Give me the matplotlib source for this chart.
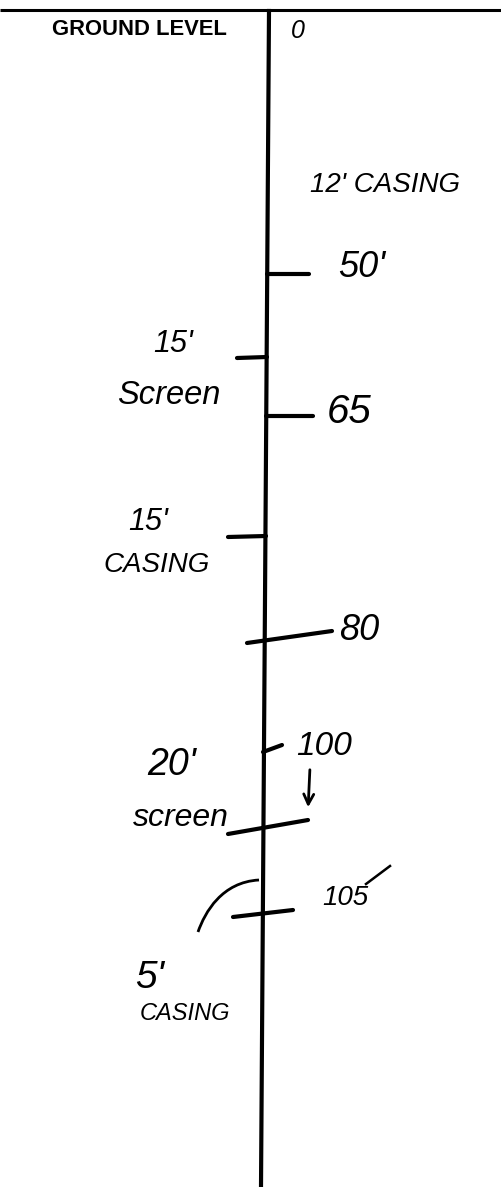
import matplotlib
matplotlib.use("Agg")
import matplotlib.pyplot as plt
from matplotlib.path import Path
from matplotlib.patches import PathPatch

# ---------------- data ----------------
depths = [0, 50, 65, 80, 100, 105]
depth_labels = ["0", "50'", "65", "80", "100", "105"]
section_lengths = ["12'", "15'", "15'", "20'", "5'"]
section_types = ["CASING", "Screen", "CASING", "screen", "CASING"]
header = "GROUND LEVEL"

# ---------------- layout (pixels) ----------------
W, H = 502, 1187
fig = plt.figure(figsize=(W / 100, H / 100), dpi=100)
ax = fig.add_axes([0, 0, 1, 1])
ax.set_xlim(0, W)
ax.set_ylim(H, 0)
ax.axis("off")

hand = dict(family=["Liberation Sans", "DejaVu Sans"], style="italic", color="black")

# ground line and well line
ax.plot([0, W], [10, 10], color="black", lw=2.2, solid_capstyle="butt")
well_top, well_bot = (269, 11), (261, H)
ax.plot([well_top[0], well_bot[0]], [well_top[1], well_bot[1]], color="black", lw=3.0)

ax.text(52, 35, header, family=["Liberation Sans", "DejaVu Sans"], weight="bold",
        fontsize=15.8, ha="left", va="baseline")

# depth tick marks (x0, y0, x1, y1) and their labels
tick_geom = {0: None,
             50: (267, 274, 309, 274),
             65: (266, 416, 313, 416),
             80: (247, 643, 332, 631),
             100: (263, 752, 282, 745),
             105: (233, 917, 293, 910)}
label_pos = {0: (291, 38, 18), 50: (338, 277, 26), 65: (327, 423, 29),
             80: (339, 640, 26), 100: (296, 755, 24), 105: (322, 905, 20)}
for d, lab in zip(depths, depth_labels):
    g = tick_geom[d]
    if g is not None:
        ax.plot([g[0], g[2]], [g[1], g[3]], color="black", lw=3.0, solid_capstyle="round")
    x, y, fs = label_pos[d]
    ax.text(x, y, lab, fontsize=fs, ha="left", va="baseline", **hand)

# tail stroke on the 105 label
ax.plot([366, 390], [884, 866], color="black", lw=1.8)

# extra section boundary marks on left side
for seg in [(237, 358, 267, 357), (228, 537, 266, 536), (228, 834, 308, 820)]:
    ax.plot([seg[0], seg[2]], [seg[1], seg[3]], color="black", lw=3.0, solid_capstyle="round")

# section labels: (length pos, type pos)
sec_pos = [((310, 192, 20), (347, 192, 20)),
           ((153, 352, 22), (117, 404, 23.5)),
           ((128, 530, 22), (103, 572, 20)),
           ((147, 775, 27), (133, 826, 23)),
           ((135, 988, 28), (140, 1020, 17))]
for i, (ln, tp) in enumerate(zip(section_lengths, section_types)):
    (lx, ly, lfs), (tx, ty, tfs) = sec_pos[i]
    if i == 0:
        ax.text(lx, ly, ln + " " + tp, fontsize=lfs, ha="left", va="baseline", **hand)
    else:
        ax.text(lx, ly, ln, fontsize=lfs, ha="left", va="baseline", **hand)
        ax.text(tx, ty, tp, fontsize=tfs, ha="left", va="baseline", **hand)

# arrow under "100"
ax.annotate("", xy=(308, 810), xytext=(310, 767),
            arrowprops=dict(arrowstyle="->", lw=2.0, color="black", mutation_scale=18))

# curved leader from 5' casing label to the well
curve = Path([(259, 880), (222, 882), (205, 912), (198, 932)],
             [Path.MOVETO, Path.CURVE4, Path.CURVE4, Path.CURVE4])
ax.add_patch(PathPatch(curve, fill=False, lw=2.0, color="black"))

fig.savefig("out.png", dpi=100, facecolor="white")
